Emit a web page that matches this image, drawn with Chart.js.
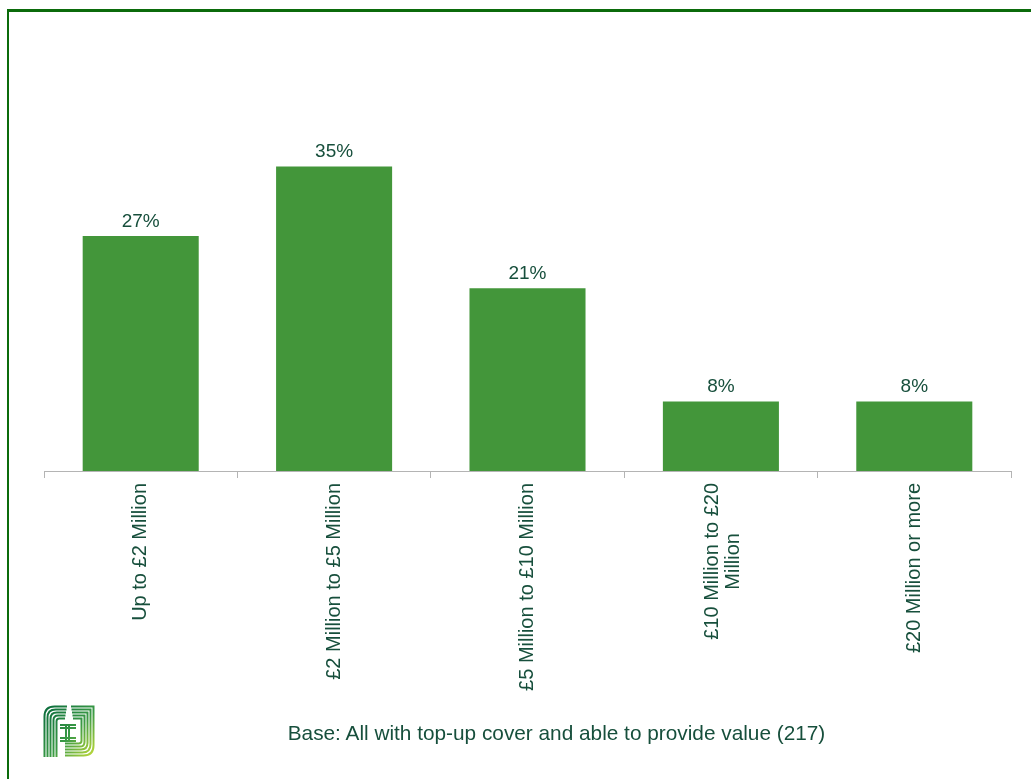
<!DOCTYPE html>
<html>
<head>
<meta charset="utf-8">
<script src="https://cdn.jsdelivr.net/npm/chart.js@4/dist/chart.umd.min.js"></script>
<style>
  body { margin: 0; background: #fff; font-family: "Liberation Sans", Arial, sans-serif; }
  #wrap { position: relative; width: 1031px; height: 779px; overflow: hidden; }
  #frame { position: absolute; left: 7px; top: 9px; width: 1040px; height: 800px; border-left: 2px solid #0b6b0b; border-top: 3px solid #0b6b0b; }
  #chart { position: absolute; left: 0; top: 0; }
  #base { position: absolute; left: 0; width: 1113px; top: 721px; text-align: center; font-size: 20.8px; color: #174f3c; }
  #logo { position: absolute; left: 43px; top: 705px; }
</style>
</head>
<body>
<div id="wrap">
  <div id="frame"></div>
  <canvas id="chart" width="1031" height="779"></canvas>
  <div id="base">Base: All with top-up cover and able to provide value (217)</div>
  <svg id="logo" width="52" height="52" viewBox="0 0 52 52"></svg>
</div>
<script>
const categories = [
  "Up to £2 Million",
  "£2 Million to £5 Million",
  "£5 Million to £10 Million",
  ["£10 Million to £20", "Million"],
  "£20 Million or more"
];
const shares = [27, 35, 21, 8, 8];

const barColor = "#43963a";
const textColor = "#174f3c";
const fontFamily = '"Liberation Sans", Arial, sans-serif';

// percentage labels above each bar
const valueLabels = {
  id: "valueLabels",
  afterDatasetsDraw(chart) {
    const ctx = chart.ctx;
    const meta = chart.getDatasetMeta(0);
    ctx.save();
    ctx.font = "19px " + fontFamily;
    ctx.fillStyle = textColor;
    ctx.textAlign = "center";
    ctx.textBaseline = "bottom";
    meta.data.forEach((bar, i) => {
      ctx.fillText(shares[i] + "%", bar.x, bar.y - 5);
    });
    ctx.restore();
  }
};

// vertical category labels; wrapped lines are centred on each other
const categoryLabels = {
  id: "categoryLabels",
  afterDraw(chart) {
    const ctx = chart.ctx;
    const xs = chart.scales.x;
    const top = chart.chartArea.bottom + 12;
    const lineGap = 21;
    ctx.save();
    ctx.font = "20px " + fontFamily;
    ctx.fillStyle = textColor;
    ctx.textAlign = "center";
    ctx.textBaseline = "middle";
    categories.forEach((label, i) => {
      const lines = Array.isArray(label) ? label : [label];
      const maxW = Math.max(...lines.map(l => ctx.measureText(l).width));
      const cx = xs.getPixelForValue(i) + (lines.length > 1 ? 2 : 0);
      ctx.save();
      ctx.translate(cx, top + maxW / 2);
      ctx.rotate(-Math.PI / 2);
      lines.forEach((l, j) => {
        ctx.fillText(l, 0, (j - (lines.length - 1) / 2) * lineGap);
      });
      ctx.restore();
    });
    ctx.restore();
  }
};

new Chart(document.getElementById("chart"), {
  type: "bar",
  data: {
    labels: categories,
    datasets: [{
      data: shares,
      backgroundColor: barColor,
      barPercentage: 0.6,
      categoryPercentage: 1
    }]
  },
  options: {
    responsive: false,
    animation: false,
    layout: { padding: { left: 44, right: 20, top: 123, bottom: 0 } },
    plugins: { legend: { display: false }, tooltip: { enabled: false } },
    scales: {
      x: {
        afterFit(scale) { scale.height = 308; },
        grid: { display: true, drawOnChartArea: false, offset: true, tickLength: 7, color: "#b4b4b4", lineWidth: 1 },
        border: { color: "#b4b4b4", width: 1 },
        ticks: { display: false }
      },
      y: {
        display: false,
        min: 0, max: 40
      }
    }
  },
  plugins: [valueLabels, categoryLabels]
});

// striped logo mark
const svg = document.getElementById("logo");
const ns = "http://www.w3.org/2000/svg";
const defs = document.createElementNS(ns, "defs");
defs.innerHTML = '<linearGradient id="lg" x1="0" y1="0" x2="1" y2="1">' +
  '<stop offset="0" stop-color="#0a6b3c"/><stop offset="0.55" stop-color="#3a9a45"/>' +
  '<stop offset="1" stop-color="#c2dc3a"/></linearGradient>';
svg.appendChild(defs);
let d = "";
for (let i = 0; i < 5; i++) {
  const o = 1.5 + i * 3;
  const r = 10 - i * 1.8;
  // left "F" strokes
  d += `M${o} 52 V${o + r} Q${o} ${o} ${o + r} ${o} H${24 - i * 0.5} `;
  // right "J" strokes
  const q = 50.5 - i * 3;
  d += `M${28 + i * 0.5} ${1.5 + i * 3} H${q} V${q - r} Q${q} ${q} ${q - r} ${q} H${22} `;
}
d += "M17 20 H33 M17 23 H33 M23 20 V36 M26 20 V36 M17 33 H33 M17 36 H33";
const path = document.createElementNS(ns, "path");
path.setAttribute("d", d);
path.setAttribute("fill", "none");
path.setAttribute("stroke", "url(#lg)");
path.setAttribute("stroke-width", "2");
svg.appendChild(path);
</script>
</body>
</html>
